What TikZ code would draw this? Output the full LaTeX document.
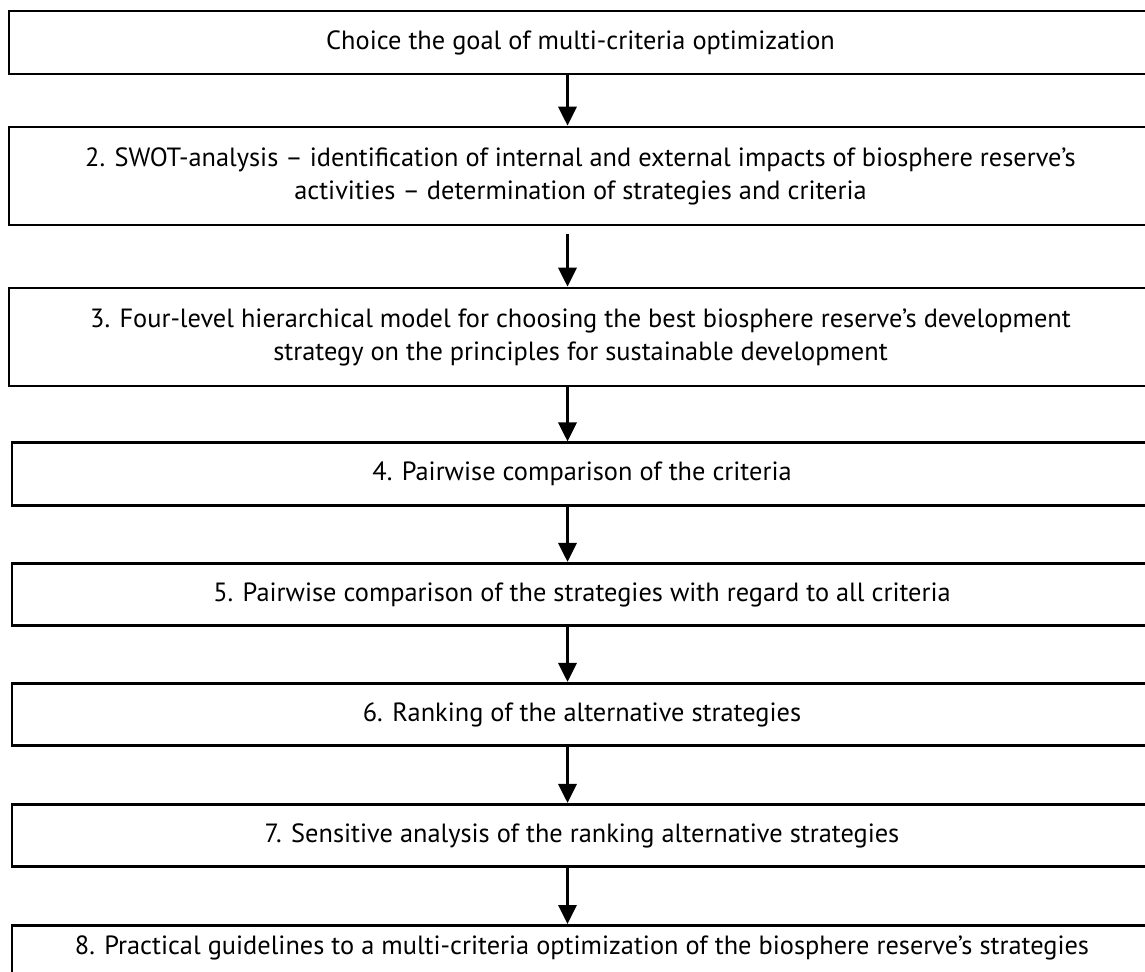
\documentclass[tikz,border=0pt]{standalone}
\usepackage{fontspec}
\setmainfont{PT Sans}
\usetikzlibrary{positioning,arrows.meta}

\tikzset{
  stepbox/.style={draw, line width=1.5pt, inner xsep=0pt, inner ysep=0pt,
    align=center, font=\fontsize{15}{18.8}\selectfont},
  widebox/.style={stepbox, minimum width=22.86cm},
  narrowbox/.style={stepbox, minimum width=22.80cm},
  flow/.style={-{Triangle[length=0.38cm,width=0.36cm]}, line width=1.9pt}
}

\begin{document}
\begin{tikzpicture}
	%%%%% START %%%%%
	\useasboundingbox (0,0) rectangle (22.9,-19.44);
	\clip (0,0) rectangle (22.9,-19.44);
	
	\coordinate (ax) at (11.35,0);
	
	\node[widebox, minimum height=1.26cm] (s1) at (11.61,-0.85) {Choice the goal of multi-criteria optimization};
	\node[widebox, minimum height=1.96cm] (s2) at (11.61,-3.52) {2. SWOT-analysis – identification of internal and external impacts of biosphere reserve’s\\activities – determination of strategies and criteria};
	\node[widebox, minimum height=1.96cm] (s3) at (11.61,-6.74) {3. Four-level hierarchical model for choosing the best biosphere reserve’s development\\strategy on the principles for sustainable development};
	
	\node[narrowbox, minimum height=1.25cm] (s4) at (11.64,-9.48) {4. Pairwise comparison of the criteria};
	\node[narrowbox, minimum height=1.25cm] (s5) at (11.64,-11.89) {5. Pairwise comparison of the strategies with regard to all criteria};
	\node[narrowbox, minimum height=1.25cm] (s6) at (11.64,-14.29) {6. Ranking of the alternative strategies};
	\node[narrowbox, minimum height=1.25cm] (s7) at (11.64,-16.71) {7. Sensitive analysis of the ranking alternative strategies};
	\node[narrowbox, anchor=north, text height=0.58cm, text depth=1cm] (s8) at (11.64,-18.48) {8. Practical guidelines to a multi-criteria optimization of the biosphere reserve’s strategies};
	
	\draw[flow] (s1.south -| ax) -- (s2.north -| ax);
	\draw[flow, shorten <=0.16cm] (s2.south -| ax) -- (s3.north -| ax);
	\draw[flow] (s3.south -| ax) -- (s4.north -| ax);
	\draw[flow] (s4.south -| ax) -- (s5.north -| ax);
	\draw[flow] (s5.south -| ax) -- (s6.north -| ax);
	\draw[flow] (s6.south -| ax) -- (s7.north -| ax);
	\draw[flow] (s7.south -| ax) -- (s8.north -| ax);
	
	%%%%% END %%%%%
\end{tikzpicture}
\end{document}
